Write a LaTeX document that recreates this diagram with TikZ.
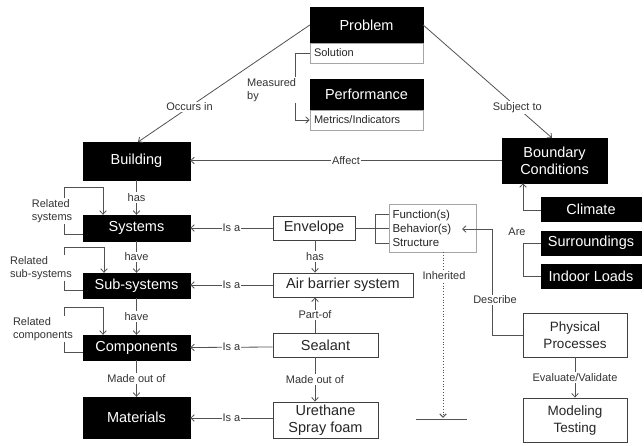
\documentclass[tikz,border=0pt]{standalone}
\usepackage{fontspec}
\setmainfont{Liberation Sans}
\usetikzlibrary{arrows.meta}
\begin{document}
\begin{tikzpicture}[x=1pt,y=-1pt,
  blk/.style={fill=black,draw=black,text=white,inner sep=0pt,align=center,font=\fontsize{14.5}{17}\selectfont},
  wbox/.style={fill=white,draw=black!75,line width=0.9pt,text=black!85,inner sep=0pt,align=center,font=\fontsize{14.5}{17.5}\selectfont},
  sbox/.style={fill=white,draw=black!35,line width=0.6pt,text=black!85,inner sep=0pt,font=\fontsize{11}{13}\selectfont},
  lbl/.style={fill=white,inner sep=1pt,text=black!80,font=\fontsize{11}{13}\selectfont},
  con/.style={draw=black!68,line width=0.8pt},
  arr/.style={con,-{Straight Barb[length=3.5pt,width=6.5pt]}},
]
\useasboundingbox (0,0) rectangle (644,445);
% top
\node[blk,minimum width=113pt,minimum height=36pt] (prob) at (366.5,25) {Problem};
\node[sbox,minimum width=113pt,minimum height=20pt,text width=105pt,align=left] (sol) at (366.5,53) {Solution};
\node[blk,minimum width=113pt,minimum height=31pt] (perf) at (366.5,94.5) {Performance};
\node[sbox,minimum width=113pt,minimum height=20pt,text width=105pt,align=left] (met) at (366.5,120) {Metrics/Indicators};
% left column
\node[blk,minimum width=107pt,minimum height=38pt] (bld) at (136.5,161) {Building};
\node[blk,minimum width=107pt,minimum height=26pt] (sys) at (136.5,228) {Systems};
\node[blk,minimum width=107pt,minimum height=25pt] (sub) at (136.5,285.5) {Sub-systems};
\node[blk,minimum width=107pt,minimum height=25pt] (comp) at (136.5,347.5) {Components};
\node[blk,minimum width=107pt,minimum height=41pt] (mat) at (136.5,417.5) {Materials};
% right
\node[blk,minimum width=105pt,minimum height=45pt] (bc) at (554.5,160.5) {Boundary\\Conditions};
\node[blk,minimum width=100pt,minimum height=24pt] (clim) at (591,209) {Climate};
\node[blk,minimum width=100pt,minimum height=24pt] (surr) at (591,243) {Surroundings};
\node[blk,minimum width=100pt,minimum height=24pt] (indl) at (591,276) {Indoor Loads};
% middle column
\node[wbox,minimum width=82pt,minimum height=24pt] (env) at (314,228) {Envelope};
\node[wbox,minimum width=140pt,minimum height=24pt] (abs) at (343,285) {Air barrier system};
\node[wbox,minimum width=105pt,minimum height=24pt] (seal) at (325.5,345) {Sealant};
\node[wbox,minimum width=105pt,minimum height=36pt] (ure) at (325.5,420) {Urethane\\Spray foam};
\node[sbox,minimum width=87pt,minimum height=48pt,text width=80pt,align=left,font=\fontsize{11.5}{14}\selectfont] (fbs) at (432.5,228) {Function(s)\\Behavior(s)\\Structure};
\node[wbox,minimum width=104pt,minimum height=44pt,font=\fontsize{13.5}{17}\selectfont] (phys) at (575,335) {Physical\\Processes};
\node[wbox,minimum width=104pt,minimum height=44pt,font=\fontsize{13.5}{17}\selectfont] (mod) at (575,420) {Modeling\\Testing};
% coordinates
\coordinate (bldtop) at (138,142);
\coordinate (bctop) at (552,138);
\coordinate (mA) at (295,53);
\coordinate (mB) at (295,120);
% top connectors
\draw[arr] (prob.west) -- (bldtop) node[lbl,pos=0.7] {Occurs in};
\draw[arr] (prob.east) -- (bctop) node[lbl,pos=0.73] {Subject to};
\draw[con] (sol.west) -- (mA) -- (mB);
\draw[arr] (mB) -- (met.west);
\node[lbl,anchor=west,align=left] (meas) at (246,90) {Measured\\by};
\draw[arr] (bc.west) -- (bc.west -| bld.east) node[lbl,midway] {Affect};
% left column vertical
\draw[arr] (bld.south) -- (sys.north) node[lbl,midway] {has};
\draw[arr] (sys.south) -- (sub.north) node[lbl,midway] {have};
\draw[arr] (sub.south) -- (comp.north) node[lbl,midway] {have};
\draw[arr] (comp.south) -- (mat.north) node[lbl,midway] {Made out of};
% related brackets
\coordinate (r1a) at (64,234); \coordinate (r1b) at (64,187); \coordinate (r1c) at (103,187);
\draw[con] (r1a -| sys.west) -- (r1a) -- (r1b) -- (r1c);
\draw[arr] (r1c) -- (r1c |- sys.north);
\node[lbl,align=left] (rs) at (52,211) {Related\\systems};
\coordinate (r2a) at (64,290); \coordinate (r2b) at (64,247); \coordinate (r2c) at (104,247);
\draw[con] (r2a -| sub.west) -- (r2a) -- (r2b) -- (r2c);
\draw[arr] (r2c) -- (r2c |- sub.north);
\node[lbl,align=left] (rss) at (41,268) {Related\\sub-systems};
\coordinate (r3a) at (64,352); \coordinate (r3b) at (64,307); \coordinate (r3c) at (103,307);
\draw[con] (r3a -| comp.west) -- (r3a) -- (r3b) -- (r3c);
\draw[arr] (r3c) -- (r3c |- comp.north);
\node[lbl,align=left] (rc) at (43,329) {Related\\components};
% Is a
\draw[arr] (env.west) -- (env.west -| sys.east) node[lbl,midway] {Is a};
\draw[arr] (abs.west) -- (abs.west -| sub.east) node[lbl,midway] {Is a};
\draw[arr] (seal.west |- 0,347) -- (comp.east) node[lbl,midway] {Is a};
\draw[arr] (ure.west |- 0,418) -- (mat.east |- 0,418) node[lbl,midway] {Is a};
% middle vertical
\coordinate (mx) at (315,0);
\draw[arr] (mx |- env.south) -- (mx |- abs.north) node[lbl,midway] {has};
\draw[arr] (mx |- seal.north) -- (mx |- abs.south) node[lbl,midway] {Part-of};
\draw[arr] (mx |- seal.south) -- (mx |- ure.north) node[lbl,midway] {Made out of};
% envelope bracket to function box
\coordinate (fA) at (375,214); \coordinate (fB) at (375,243);
\draw[con] (env.east) -- (env.east -| fA);
\draw[con] (fA) -- (fB);
\draw[con] (fA) -- (fA -| fbs.west);
\draw[con] (fB) -- (fB -| fbs.west);
\draw[con] (fA |- env.east) -- (env.east -| fbs.west);
% inherited
\coordinate (iA) at (443,252); \coordinate (iB) at (443,418);
\coordinate (iL) at (416,419); \coordinate (iR) at (467,419);
\draw[con,dotted,line width=1pt,-{Straight Barb[length=3.5pt,width=6.5pt]}] (iA) -- (iB);
\draw[con] (iL) -- (iR);
\node[lbl] (inh) at (444,276) {Inherited};
% describe
\coordinate (dA) at (492,335); \coordinate (dB) at (492,229); \coordinate (dC) at (462,229);
\draw[con] (phys.west) -- (dA) -- (dB);
\draw[arr] (dB) -- (dC);
\node[lbl] (desc) at (495,300) {Describe};
% evaluate
\draw[arr] (phys.south) -- (mod.north) node[lbl,midway] {Evaluate/Validate};
% are bracket
\coordinate (aT) at (523,210); \coordinate (aS) at (523,243); \coordinate (aI) at (523,276);
\draw[arr] (aT -| clim.west) -- (aT) -- (aT |- bc.south);
\draw[con] (surr.west) -- (aS) -- (aI) -- (indl.west);
\node[lbl] (are) at (517,232) {Are};
\end{tikzpicture}
\end{document}
